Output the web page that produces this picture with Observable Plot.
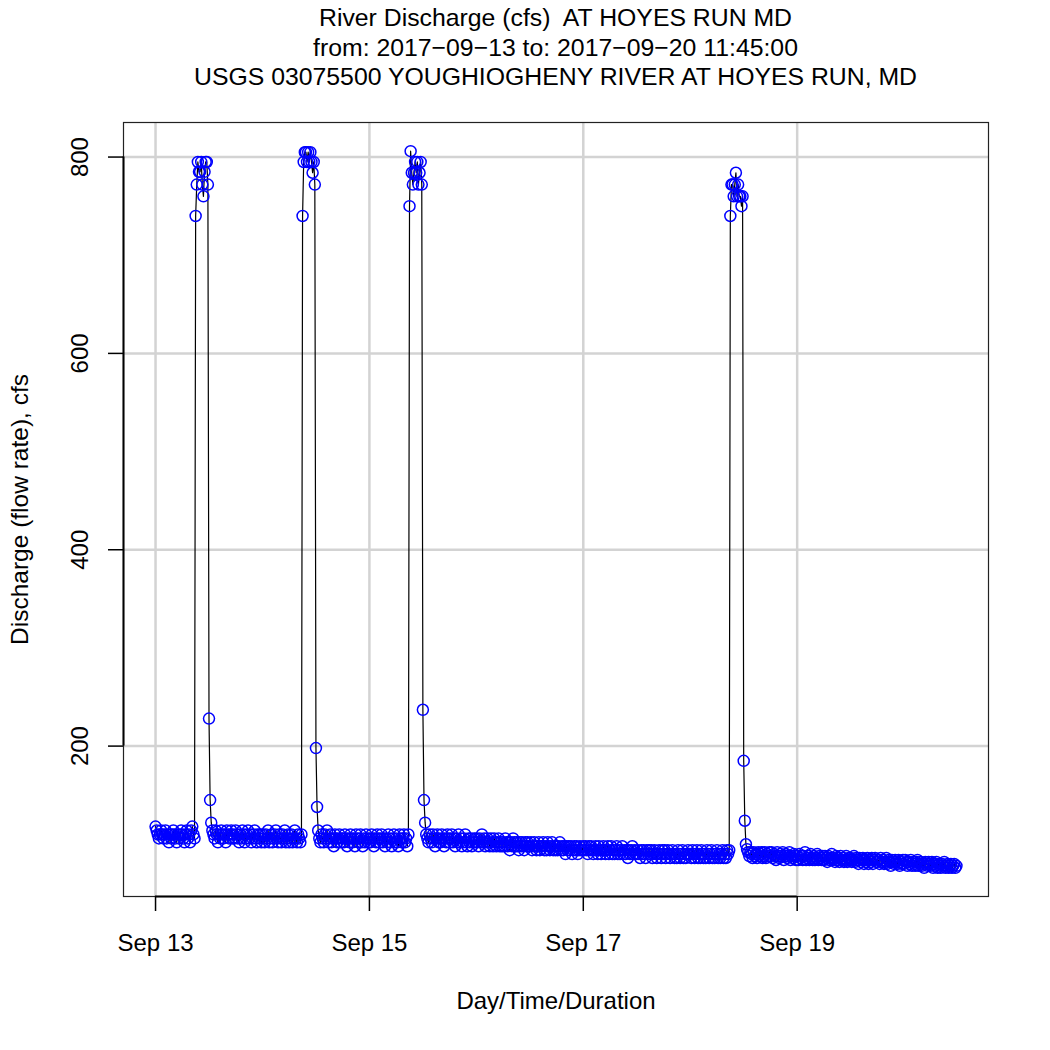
<!DOCTYPE html>
<html>
<head>
<meta charset="utf-8">
<script src="https://cdn.jsdelivr.net/npm/d3@7"></script>
<script src="https://cdn.jsdelivr.net/npm/@observablehq/plot@0.6"></script>
<style>
  body { margin: 0; background: #fff; font-family: "Liberation Sans", Arial, Helvetica, sans-serif; }
  #title { width: 1050px; box-sizing: border-box; padding: 3px 0 0 61px; height: 100px;
           text-align: center; font-size: 24.8px; line-height: 29.5px; color: #000; }
</style>
</head>
<body>
<div id="title">
  <div>River Discharge (cfs)&nbsp; AT HOYES RUN MD</div>
  <div>from: 2017&minus;09&minus;13 to: 2017&minus;09&minus;20 11:45:00</div>
  <div>USGS 03075500 YOUGHIOGHENY RIVER AT HOYES RUN, MD</div>
</div>
<div id="chart"></div>
<script>
// 15-minute discharge readings (cfs), starting 2017-09-13 00:00
const startTime = Date.UTC(2017, 8, 13, 0, 0);
const stepMinutes = 15;

const sep13 = [
  118,114,110,106,110,114,110,106,110,114,106,110,102,110,106,110,114,110,106,102,110,106,110,114,
  110,106,102,110,114,106,110,102,114,118,110,106,740,772,795,785,785,795,772,760,785,795,795,772,
  228,145,122,114,110,106,114,110,102,110,106,114,110,106,110,102,114,110,106,110,114,106,110,106,
  114,110,106,102,110,106,114,110,102,106,110,114,106,110,102,106,110,114,106,102,110,106,110,102
];
const sep14 = [
  110,106,102,110,106,114,102,106,110,102,106,110,114,106,102,110,106,102,110,106,114,102,106,110,
  102,106,110,102,106,114,106,102,110,106,102,110,740,795,805,805,795,805,795,805,795,784,795,772,
  198,138,114,106,102,110,106,102,110,106,114,102,106,110,102,106,98,110,106,102,106,110,102,106,
  106,102,110,106,98,106,102,110,106,102,106,98,110,106,102,106,110,102,98,106,102,110,106,102
];
const sep15 = [
  106,102,110,106,98,106,102,110,106,102,106,110,102,106,98,106,102,110,106,102,98,106,110,102,
  106,102,98,110,106,102,106,110,102,106,98,110,750,806,784,772,784,795,784,795,772,784,795,772,
  237,145,122,110,106,102,110,106,102,110,106,98,106,110,102,106,102,110,106,98,106,102,110,106,
  102,106,110,102,106,98,106,102,110,102,106,98,102,106,110,102,98,106,102,106,98,102,106,102
];
const sep16 = [
  106,102,98,106,102,110,102,106,98,102,106,102,98,106,102,98,106,102,98,102,106,98,102,98,
  102,98,106,102,98,102,94,102,98,106,102,98,102,98,94,102,98,102,98,94,102,98,102,98,
  98,102,94,98,102,98,94,98,102,94,98,98,102,94,98,94,102,98,94,98,102,94,98,94,
  98,94,98,102,94,98,94,98,90,98,94,98,94,98,90,94,98,94,98,90,94,98,94,94
];
const sep17 = [
  98,94,98,94,90,98,94,98,94,90,94,98,94,90,98,94,90,94,98,94,90,94,98,90,
  94,98,90,94,90,94,98,90,94,90,94,98,90,94,90,94,86,94,90,94,98,90,94,90,
  90,94,90,86,94,90,94,90,86,94,90,94,90,94,86,90,94,90,86,90,94,90,86,94,
  90,94,86,90,94,90,86,90,94,90,86,90,86,94,90,86,90,94,86,90,86,90,94,90
];
const sep18 = [
  90,86,94,90,86,90,94,86,90,86,94,90,86,90,86,94,90,86,90,94,86,90,86,90,
  94,86,90,86,90,94,86,90,86,94,90,94,740,772,772,760,772,784,760,772,760,760,750,760,
  185,124,100,95,92,88,92,90,86,92,88,90,86,92,88,90,92,86,88,92,86,90,88,92,
  88,92,86,90,88,84,92,88,86,90,88,92,84,88,90,86,88,92,84,88,86,90,88,84
];
const sep19 = [
  88,84,90,86,88,84,88,92,84,86,88,84,90,86,84,88,84,86,90,84,88,86,84,88,
  84,88,86,82,88,84,86,90,84,86,82,88,84,86,82,88,84,86,82,84,88,82,86,84,
  86,82,84,88,82,86,84,80,86,82,84,86,80,84,82,86,80,84,82,86,80,84,86,82,
  82,84,80,86,82,84,80,82,86,80,84,82,78,84,82,80,84,82,80,84,78,82,80,84
];
const sep20 = [
  80,84,82,78,82,80,84,78,82,80,78,82,84,78,80,82,78,80,76,82,80,78,82,80,
  78,82,76,80,78,82,76,80,78,76,80,78,82,76,78,80,76,78,80,76,78,80,76,78
];

const yTicks = [200, 400, 600, 800];
const xTicks = [Date.UTC(2017, 8, 13), Date.UTC(2017, 8, 15), Date.UTC(2017, 8, 17), Date.UTC(2017, 8, 19)].map(d => new Date(d));
const xTickLabels = ["Sep 13", "Sep 15", "Sep 17", "Sep 19"];

const values = [...sep13, ...sep14, ...sep15, ...sep16, ...sep17, ...sep18, ...sep19, ...sep20];
const rows = values.map((q, i) => ({ t: new Date(startTime + i * stepMinutes * 60000), q }));

// R-style 4% padding of the data range
const pad = ([a, b]) => { const d = (b - a) * 0.04; return [a - d, b + d]; };
const xp = pad(d3.extent(rows, d => +d.t));
const xDomain = [new Date(xp[0]), new Date(xp[1])];
const yDomain = pad(d3.extent(rows, d => d.q));

const chart = Plot.plot({
  width: 1050,
  height: 950,
  marginLeft: 123,
  marginRight: 62,
  marginTop: 22,
  marginBottom: 154,
  style: { fontFamily: '"Liberation Sans", Arial, Helvetica, sans-serif', background: "#fff", color: "#000" },
  x: { type: "utc", domain: xDomain, axis: null },
  y: { domain: yDomain, axis: null },
  marks: [
    Plot.ruleY(yTicks, { stroke: "#d3d3d3", strokeWidth: 2.5 }),
    Plot.ruleX(xTicks, { stroke: "#d3d3d3", strokeWidth: 2.5 }),
    Plot.line(rows, { x: "t", y: "q", stroke: "#000", strokeWidth: 1.2 }),
    Plot.dot(rows, { x: "t", y: "q", r: 5.5, stroke: "#0000ff", fill: "none", strokeWidth: 1.5 }),
    Plot.frame({ stroke: "#222", strokeWidth: 1.2 }),
    Plot.axisX(xTicks, { label: null, tickSize: 15, tickPadding: 22, fontSize: 24, tickFormat: d => xTickLabels[xTicks.findIndex(t => +t === +d)], strokeWidth: 1.5 }),
    Plot.ruleY([yDomain[0]], { x1: xTicks[0], x2: xTicks[xTicks.length - 1], stroke: "#000", strokeWidth: 2 }),
    Plot.axisY(yTicks, { label: null, tickSize: 15, tickPadding: 21, tickRotate: -90, fontSize: 24, strokeWidth: 1.5 }),
    Plot.ruleX([xDomain[0]], { y1: yTicks[0], y2: yTicks[yTicks.length - 1], stroke: "#000", strokeWidth: 2 }),
    Plot.text(["Day/Time/Duration"], { frameAnchor: "bottom", dy: 105, fontSize: 24, textAnchor: "middle", lineAnchor: "middle", text: d => d }),
    Plot.text(["Discharge (flow rate), cfs"], { frameAnchor: "left", dx: -103, rotate: -90, fontSize: 24.5, textAnchor: "middle", lineAnchor: "middle", text: d => d })
  ]
});
document.getElementById("chart").appendChild(chart);
</script>
</body>
</html>
